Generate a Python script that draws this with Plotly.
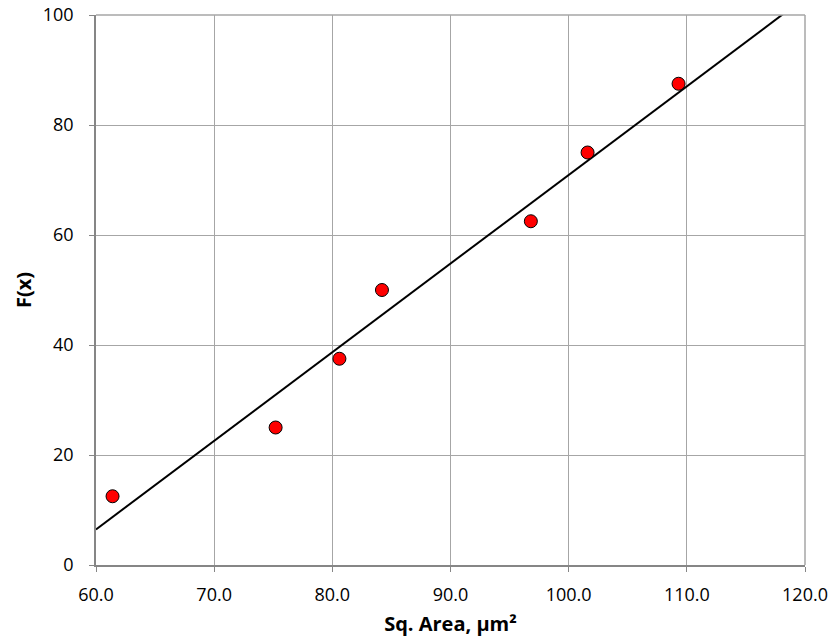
import numpy as np
import plotly.graph_objects as go

sq_area = [61.4, 75.2, 80.6, 84.2, 96.8, 101.6, 109.3]
fx = [12.5, 25.0, 37.5, 50.0, 62.5, 75.0, 87.5]

slope, intercept = np.polyfit(sq_area, fx, 1)
trend_x = [60.0, 120.0]
trend_y = [slope * v + intercept for v in trend_x]

font_family = "Open Sans, Liberation Sans, sans-serif"

fig = go.Figure()
fig.add_trace(go.Scatter(x=trend_x, y=trend_y, mode="lines",
                         line=dict(color="black", width=2), showlegend=False,
                         hoverinfo="skip"))
fig.add_trace(go.Scatter(x=sq_area, y=fx, mode="markers",
                         marker=dict(color="#FF0000", size=13,
                                     line=dict(color="black", width=1)),
                         showlegend=False))

fig.update_layout(
    width=831, height=644,
    margin=dict(l=96, r=26, t=15, b=79, autoexpand=False),
    paper_bgcolor="white", plot_bgcolor="white",
    font=dict(family=font_family, size=18, color="black"),
    xaxis=dict(range=[60, 120], tick0=60, dtick=10, tickformat=".1f",
               showgrid=True, gridcolor="#A6A6A6", gridwidth=1,
               showline=True, linecolor="#868686", linewidth=1.5, mirror=False,
               ticks="outside", ticklen=5, tickcolor="#868686",
               ticklabelstandoff=8, ticklabeloverflow="allow",
               zeroline=False,
               title=dict(text="<b>Sq. Area, µm²</b>", font=dict(size=20), standoff=12)),
    yaxis=dict(range=[0, 100], tick0=0, dtick=20,
               showgrid=True, gridcolor="#A6A6A6", gridwidth=1,
               showline=True, linecolor="#868686", linewidth=1.5,
               ticks="outside", ticklen=5, tickcolor="#868686",
               ticklabelstandoff=12, ticklabeloverflow="allow",
               zeroline=False,
               title=dict(text="<b>F(x)</b>", font=dict(size=20), standoff=6)),
)
fig.add_shape(type="line", xref="paper", yref="paper", x0=1, x1=1, y0=0, y1=1,
              line=dict(color="#A6A6A6", width=1.5), layer="above")
fig.add_shape(type="line", xref="paper", yref="paper", x0=0, x1=1, y0=1, y1=1,
              line=dict(color="#A6A6A6", width=1.5), layer="above")

fig.write_html("out.html", config={"displayModeBar": False},
               post_script="document.body.style.margin='0';document.body.style.overflow='hidden';")
